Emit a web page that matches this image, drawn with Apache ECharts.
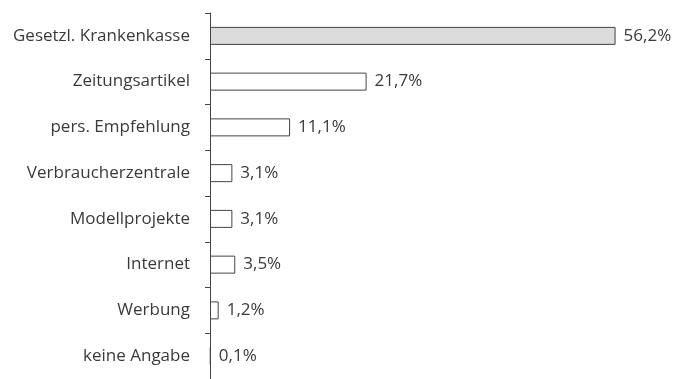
<!DOCTYPE html>
<html>
<head>
<meta charset="utf-8">
<script src="https://cdn.jsdelivr.net/npm/echarts@6/dist/echarts.min.js"></script>
<style>
  html, body { margin: 0; padding: 0; background: #fff; }
  #chart { width: 691px; height: 379px; }
</style>
</head>
<body>
<div id="chart"></div>
<script>
// Information sources (share of respondents, %)
const categories = [
  'Gesetzl. Krankenkasse',
  'Zeitungsartikel',
  'pers. Empfehlung',
  'Verbraucherzentrale',
  'Modellprojekte',
  'Internet',
  'Werbung',
  'keine Angabe'
];
const shares = [56.2, 21.7, 11.1, 3.1, 3.1, 3.5, 1.2, 0.1];
const shareLabels = ['56,2%', '21,7%', '11,1%', '3,1%', '3,1%', '3,5%', '1,2%', '0,1%'];

const textColor = '#3a3a3a';
const lineColor = '#444';

const chart = echarts.init(document.getElementById('chart'), null, { renderer: 'canvas' });

chart.setOption({
  animation: false,
  grid: { left: 210, top: 13, width: 433, height: 371 },
  xAxis: {
    type: 'value',
    min: 0,
    max: 60,
    show: false
  },
  yAxis: {
    type: 'category',
    data: categories,
    inverse: true,
    axisLine: { show: true, lineStyle: { color: lineColor, width: 1 } },
    axisTick: { show: true, length: 5, inside: false, alignWithLabel: false, lineStyle: { color: lineColor } },
    axisLabel: {
      margin: 20,
      color: textColor,
      fontFamily: 'Open Sans',
      fontSize: 17
    },
    splitLine: { show: false }
  },
  series: [{
    type: 'bar',
    barWidth: 18,
    data: shares.map((v, i) => ({
      value: v,
      itemStyle: i === 0 ? { color: '#dcdcdc' } : { color: '#fff' }
    })),
    itemStyle: { borderColor: lineColor, borderWidth: 1 },
    label: {
      show: true,
      position: 'right',
      distance: 8,
      color: textColor,
      fontFamily: 'Open Sans',
      fontSize: 17,
      formatter: p => shareLabels[p.dataIndex]
    }
  }]
});
</script>
</body>
</html>
